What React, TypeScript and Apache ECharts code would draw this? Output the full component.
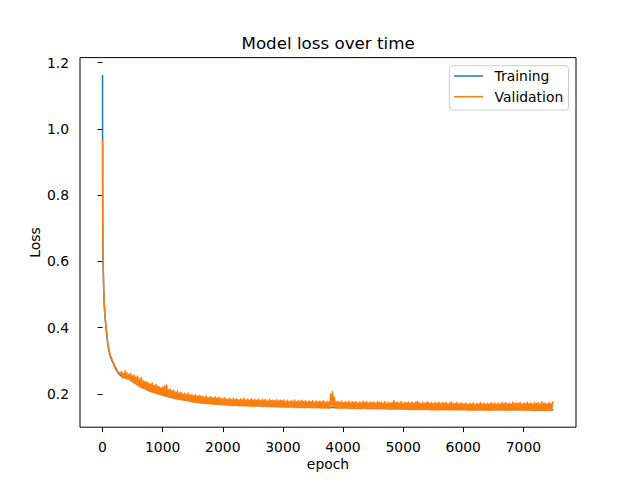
import React, { useEffect, useRef } from "react";
import * as echarts from "echarts";

// Early, steep part of the curves (epochs)
const earlyEpochs = [0, 1, 2, 3, 5, 8, 12, 16, 20, 25, 30, 40, 50, 60, 75, 90, 105, 120, 140, 160, 180, 200, 230, 260, 300];
const trainingEarly = [1.163, 0.87, 0.79, 0.73, 0.674, 0.618, 0.574, 0.54, 0.51, 0.485, 0.465, 0.436, 0.416, 0.396, 0.371, 0.347, 0.333, 0.319, 0.309, 0.299, 0.292, 0.282, 0.273, 0.263, 0.256];
const validationEarly = [0.966, 0.88, 0.8, 0.74, 0.68, 0.625, 0.58, 0.545, 0.515, 0.49, 0.47, 0.44, 0.42, 0.4, 0.375, 0.35, 0.337, 0.322, 0.313, 0.302, 0.296, 0.285, 0.276, 0.266, 0.26];

// Training loss, later part (every 150 epochs from 450)
const trainingLateStart = 450;
const trainingLateStep = 150;
const trainingLate = [
  0.245, 0.226, 0.213, 0.203, 0.195, 0.188, 0.183, 0.178, 0.174, 0.172,
  0.17, 0.168, 0.167, 0.166, 0.165, 0.164, 0.163, 0.162, 0.162, 0.161,
  0.161, 0.16, 0.159, 0.159, 0.159, 0.158, 0.158, 0.157, 0.157, 0.156,
  0.156, 0.155, 0.155, 0.155, 0.154, 0.154, 0.154, 0.154, 0.153, 0.153,
  0.153, 0.153, 0.153, 0.153, 0.153, 0.152, 0.152, 0.152,
];

// Validation loss, noisy part (every 15 epochs from 315 to 7500)
const validationLateStart = 315;
const validationLateStep = 15;
const validationLate = [
  0.268, 0.249, 0.262, 0.248, 0.27, 0.246, 0.264, 0.245, 0.259, 0.243,
  0.262, 0.238, 0.255, 0.234, 0.258, 0.231, 0.251, 0.228, 0.254, 0.224,
  0.245, 0.22, 0.25, 0.218, 0.24, 0.216, 0.238, 0.213, 0.236, 0.211,
  0.233, 0.208, 0.23, 0.206, 0.234, 0.205, 0.226, 0.203, 0.229, 0.201,
  0.224, 0.2, 0.221, 0.198, 0.219, 0.197, 0.222, 0.195, 0.224, 0.193,
  0.228, 0.192, 0.213, 0.19, 0.215, 0.189, 0.21, 0.188, 0.211, 0.186,
  0.206, 0.185, 0.209, 0.184, 0.203, 0.183, 0.205, 0.182, 0.201, 0.181,
  0.202, 0.18, 0.198, 0.179, 0.203, 0.178, 0.197, 0.177, 0.199, 0.176,
  0.195, 0.175, 0.198, 0.175, 0.193, 0.174, 0.196, 0.173, 0.194, 0.172,
  0.193, 0.172, 0.19, 0.171, 0.195, 0.171, 0.189, 0.17, 0.192, 0.17,
  0.191, 0.17, 0.188, 0.169, 0.192, 0.169, 0.187, 0.168, 0.19, 0.168,
  0.188, 0.167, 0.185, 0.167, 0.189, 0.166, 0.186, 0.166, 0.184, 0.166,
  0.187, 0.166, 0.183, 0.165, 0.188, 0.165, 0.184, 0.165, 0.186, 0.165,
  0.182, 0.164, 0.186, 0.164, 0.183, 0.164, 0.187, 0.164, 0.182, 0.164,
  0.185, 0.164, 0.181, 0.163, 0.186, 0.163, 0.182, 0.163, 0.184, 0.163,
  0.181, 0.163, 0.185, 0.163, 0.18, 0.162, 0.184, 0.162, 0.182, 0.162,
  0.183, 0.162, 0.179, 0.162, 0.184, 0.162, 0.18, 0.161, 0.182, 0.161,
  0.18, 0.161, 0.183, 0.161, 0.179, 0.161, 0.182, 0.16, 0.18, 0.16,
  0.182, 0.16, 0.178, 0.16, 0.181, 0.16, 0.177, 0.16, 0.18, 0.16,
  0.178, 0.16, 0.182, 0.159, 0.177, 0.159, 0.18, 0.159, 0.178, 0.159,
  0.181, 0.159, 0.177, 0.159, 0.18, 0.159, 0.176, 0.159, 0.179, 0.159,
  0.177, 0.158, 0.18, 0.158, 0.176, 0.158, 0.179, 0.158, 0.177, 0.158,
  0.179, 0.158, 0.176, 0.158, 0.18, 0.158, 0.175, 0.158, 0.178, 0.157,
  0.176, 0.157, 0.2, 0.165, 0.207, 0.162, 0.19, 0.157, 0.177, 0.157,
  0.178, 0.157, 0.175, 0.157, 0.179, 0.157, 0.174, 0.157, 0.177, 0.157,
  0.175, 0.157, 0.178, 0.156, 0.174, 0.156, 0.177, 0.156, 0.175, 0.156,
  0.177, 0.156, 0.173, 0.156, 0.176, 0.156, 0.174, 0.156, 0.178, 0.156,
  0.174, 0.156, 0.177, 0.155, 0.173, 0.155, 0.176, 0.155, 0.174, 0.155,
  0.176, 0.155, 0.173, 0.155, 0.178, 0.155, 0.174, 0.155, 0.175, 0.155,
  0.173, 0.155, 0.177, 0.155, 0.172, 0.155, 0.175, 0.154, 0.173, 0.154,
  0.175, 0.154, 0.18, 0.154, 0.174, 0.154, 0.176, 0.154, 0.173, 0.154,
  0.177, 0.154, 0.172, 0.154, 0.175, 0.154, 0.173, 0.154, 0.176, 0.153,
  0.173, 0.153, 0.176, 0.153, 0.172, 0.153, 0.175, 0.153, 0.178, 0.153,
  0.174, 0.153, 0.171, 0.153, 0.175, 0.153, 0.172, 0.153, 0.174, 0.153,
  0.176, 0.153, 0.172, 0.152, 0.174, 0.152, 0.171, 0.152, 0.175, 0.152,
  0.172, 0.152, 0.175, 0.152, 0.171, 0.152, 0.174, 0.152, 0.172, 0.152,
  0.174, 0.152, 0.17, 0.152, 0.173, 0.152, 0.176, 0.152, 0.171, 0.152,
  0.172, 0.152, 0.175, 0.152, 0.17, 0.152, 0.173, 0.152, 0.171, 0.152,
  0.17, 0.152, 0.173, 0.151, 0.169, 0.151, 0.172, 0.151, 0.17, 0.151,
  0.173, 0.151, 0.169, 0.151, 0.172, 0.151, 0.17, 0.151, 0.174, 0.151,
  0.17, 0.151, 0.173, 0.151, 0.169, 0.151, 0.172, 0.151, 0.17, 0.151,
  0.174, 0.151, 0.17, 0.151, 0.173, 0.151, 0.169, 0.151, 0.172, 0.151,
  0.17, 0.151, 0.175, 0.151, 0.171, 0.151, 0.174, 0.151, 0.17, 0.151,
  0.173, 0.151, 0.17, 0.151, 0.176, 0.151, 0.171, 0.151, 0.173, 0.151,
  0.171, 0.151, 0.174, 0.151, 0.17, 0.151, 0.173, 0.151, 0.171, 0.151,
  0.175, 0.151, 0.171, 0.151, 0.173, 0.15, 0.17, 0.15, 0.174, 0.15,
  0.171, 0.15, 0.174, 0.15, 0.17, 0.15, 0.177, 0.15, 0.172, 0.15,
  0.173, 0.15, 0.17, 0.15, 0.174, 0.15, 0.171, 0.15, 0.176, 0.172,
];

const xTicks = [0, 1000, 2000, 3000, 4000, 5000, 6000, 7000];
const yTicks = [0.2, 0.4, 0.6, 0.8, 1.0, 1.2];
const seriesNames = ["Training", "Validation"];

const FONT = "DejaVu Sans";
const FS = 13.9;

export default function App() {
  const ref = useRef<HTMLDivElement>(null);

  useEffect(() => {
    document.body.style.margin = "0";
    if (!ref.current) return;
    const chart = echarts.init(ref.current, undefined, { renderer: "svg" });

    const trainingData: number[][] = earlyEpochs.map((e, i) => [e, trainingEarly[i]]);
    trainingLate.forEach((v, i) => trainingData.push([trainingLateStart + i * trainingLateStep, v]));
    const validationData: number[][] = earlyEpochs.map((e, i) => [e, validationEarly[i]]);
    validationLate.forEach((v, i) => validationData.push([validationLateStart + i * validationLateStep, v]));

    chart.setOption({
      animation: false,
      backgroundColor: "#ffffff",
      title: {
        text: "Model loss over time",
        left: 241.5,
        top: 34,
        padding: 0,
        textStyle: { fontFamily: FONT, fontSize: 16.7, fontWeight: "normal", color: "#000" },
      },
      legend: {
        data: seriesNames,
        orient: "vertical",
        left: 449.3,
        top: 65.7,
        padding: [3.3, 5.3, 6.3, 4.7],
        icon: "rect",
        itemWidth: 29,
        itemHeight: 1.5,
        itemGap: 6.7,
        selectedMode: false,
        backgroundColor: "rgba(255,255,255,0.8)",
        borderColor: "#cccccc",
        borderWidth: 1,
        borderRadius: 3,
        textStyle: { fontFamily: FONT, fontSize: FS, color: "#000", padding: [0, 0, 0, 6.6] },
      },
      grid: {
        left: 80,
        right: 64,
        top: 57.6,
        bottom: 52.8,
        show: true,
        borderColor: "#000",
        borderWidth: 1,
        backgroundColor: "transparent",
      },
      xAxis: {
        type: "value",
        min: -375,
        max: 7875,
        name: "epoch",
        nameLocation: "middle",
        nameGap: 30,
        nameMoveOverlap: false,
        nameTextStyle: { fontFamily: FONT, fontSize: FS, color: "#000" },
        axisLine: { show: false },
        splitLine: { show: false },
        axisTick: { show: true, customValues: xTicks, length: 4.9, lineStyle: { color: "#000", width: 1 } },
        axisLabel: {
          customValues: xTicks,
          margin: 13,
          fontFamily: FONT,
          fontSize: FS,
          color: "#000",
          formatter: (v: number) => String(v),
        },
      },
      yAxis: {
        type: "value",
        min: 0.0998,
        max: 1.2154,
        name: "Loss",
        nameLocation: "middle",
        nameGap: 38,
        nameMoveOverlap: false,
        nameTextStyle: { fontFamily: FONT, fontSize: FS, color: "#000" },
        axisLine: { show: false },
        splitLine: { show: false },
        axisTick: { show: true, customValues: yTicks, length: 4.9, lineStyle: { color: "#000", width: 1 } },
        axisLabel: {
          customValues: yTicks,
          margin: 11,
          fontFamily: FONT,
          fontSize: FS,
          color: "#000",
          formatter: (v: number) => v.toFixed(1),
        },
      },
      series: [
        {
          name: seriesNames[0],
          type: "line",
          data: trainingData,
          symbol: "none",
          showSymbol: false,
          color: "#1f77b4",
          lineStyle: { width: 1.5, color: "#1f77b4", join: "round" },
          emphasis: { disabled: true },
        },
        {
          name: seriesNames[1],
          type: "line",
          data: validationData,
          symbol: "none",
          showSymbol: false,
          color: "#ff7f0e",
          lineStyle: { width: 1.5, color: "#ff7f0e", join: "round" },
          emphasis: { disabled: true },
        },
      ],
    });

    return () => chart.dispose();
  }, []);

  return <div ref={ref} style={{ width: 640, height: 480 }} />;
}
